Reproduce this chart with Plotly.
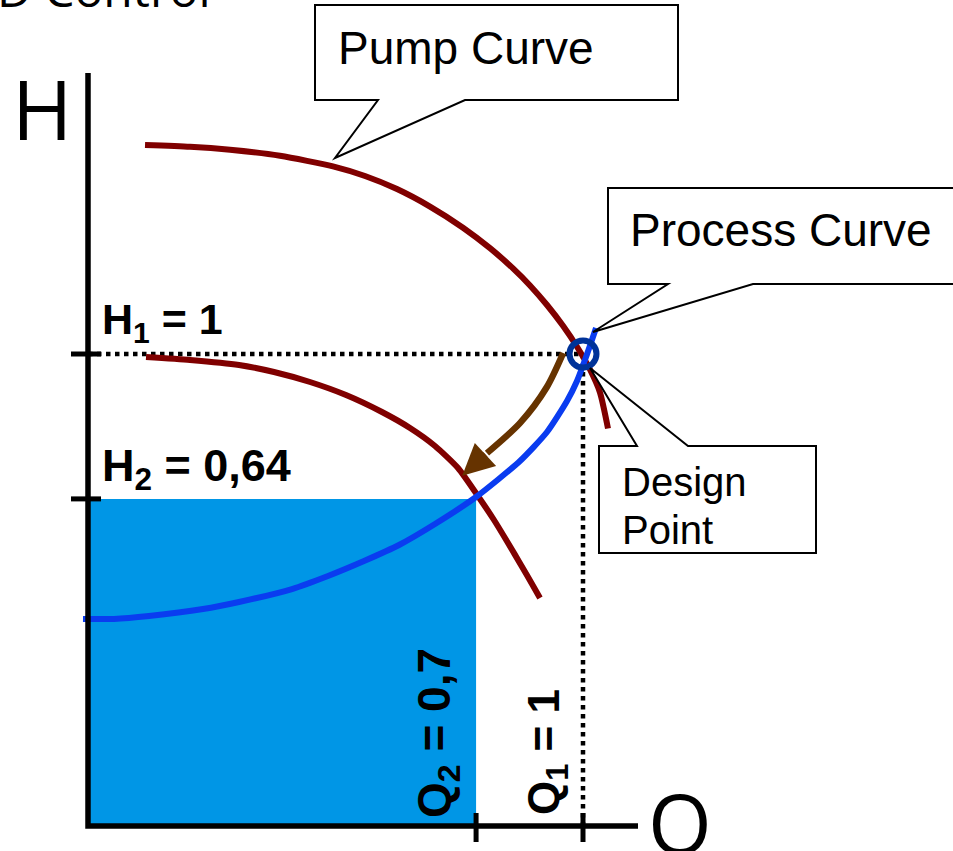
import plotly.graph_objects as go

# ---------------- data (diagram units: design point = (1, 1)) ----------------
# Pump curve at full speed
pump1_q = [0.1152, 0.2061, 0.2869, 0.3879, 0.4949, 0.5596, 0.6242, 0.6909, 0.7576,
           0.8121, 0.8586, 0.8929, 0.9273, 0.9596, 0.9879, 1.0141, 1.0343, 1.0505]
pump1_h = [1.4428, 1.4390, 1.4326, 1.4199, 1.3975, 1.3771, 1.3494, 1.3123, 1.2676,
           1.2242, 1.1814, 1.1453, 1.1038, 1.0597, 1.0153, 0.9672, 0.9184, 0.8422]
# Pump curve at reduced speed
pump2_q = [0.1172, 0.2061, 0.3051, 0.3758, 0.4485, 0.5212, 0.5939, 0.6505, 0.7010,
           0.7475, 0.7919, 0.8202, 0.8485, 0.8747, 0.8970, 0.9131]
pump2_h = [0.9936, 0.9873, 0.9767, 0.9619, 0.9407, 0.9131, 0.8771, 0.8432, 0.8051,
           0.7585, 0.6928, 0.6483, 0.5996, 0.5530, 0.5127, 0.4831]
# Process (system) curve
proc_q = [-0.0101, 0.0525, 0.1232, 0.2323, 0.3051, 0.4121, 0.4848, 0.5576, 0.6283,
          0.7010, 0.7838, 0.8727, 0.9273, 0.9677, 0.9879, 1.0061, 1.0263]
proc_h = [0.4386, 0.4386, 0.4449, 0.4597, 0.4746, 0.5021, 0.5297, 0.5614, 0.5953,
          0.6398, 0.6970, 0.7733, 0.8347, 0.9004, 0.9428, 0.9936, 1.0551]
# Brown arrow path (from design point down to new operating point)
arrow_q = [0.960, 0.927, 0.873, 0.806, 0.756]
arrow_h = [1.002, 0.930, 0.854, 0.790, 0.742]

# Operating points (positions on the diagram) and their labels
design_q, design_h = 1.0, 1.0
op2_q, op2_h = 0.784, 0.693
h_labels = ["H<sub>1</sub> = 1", "H<sub>2</sub> = 0,64"]
q_labels = ["Q<sub>1</sub> = 1", "Q<sub>2</sub> = 0,7"]

# ---------------- pixel layout helpers ----------------
W, Hh = 953, 851
X0, X1 = 88, 583      # pixel x of Q=0 and Q=1
Y0, Y1 = 826, 354     # pixel y of H=0 and H=1
sx = (X1 - X0)
sy = (Y0 - Y1)


def px(x):
    return (x - X0) / sx


def py(y):
    return (Y0 - y) / sy


xr = [px(0), px(W)]
yr = [py(Hh), py(0)]

RED = "#800000"
BLUE = "#0A3CF0"
FILL = "#0096E6"
BROWN = "#663300"
CIRC = "#003399"

fig = go.Figure()

# shaded power rectangle
fig.add_trace(go.Scatter(x=[0, op2_q, op2_q, 0, 0], y=[0, 0, op2_h, op2_h, 0],
                         fill="toself", fillcolor=FILL, mode="none", hoverinfo="skip"))

# dotted guide lines
fig.add_trace(go.Scatter(x=[0, design_q], y=[design_h, design_h], mode="lines",
                         line=dict(color="black", width=4.5, dash="dot"), hoverinfo="skip"))
fig.add_trace(go.Scatter(x=[design_q, design_q], y=[design_h, 0], mode="lines",
                         line=dict(color="black", width=4.5, dash="dot"), hoverinfo="skip"))

# curves
fig.add_trace(go.Scatter(x=pump1_q, y=pump1_h, mode="lines",
                         line=dict(color=RED, width=6, shape="spline", smoothing=0.6)))
fig.add_trace(go.Scatter(x=pump2_q, y=pump2_h, mode="lines",
                         line=dict(color=RED, width=6, shape="spline", smoothing=0.6)))
fig.add_trace(go.Scatter(x=proc_q, y=proc_h, mode="lines",
                         line=dict(color=BLUE, width=6, shape="spline", smoothing=0.6)))
fig.add_trace(go.Scatter(x=arrow_q[:-1], y=arrow_h[:-1], mode="lines",
                         line=dict(color=BROWN, width=6.5, shape="spline", smoothing=0.8)))

# axes
ax_top = py(73)
ax_right = px(638)
fig.add_trace(go.Scatter(x=[0, 0, ax_right], y=[ax_top, 0, 0], mode="lines",
                         line=dict(color="black", width=5.5)))
# ticks
tk_l, tk_r = px(71), px(101)
fig.add_trace(go.Scatter(x=[tk_l, tk_r], y=[design_h, design_h], mode="lines", line=dict(color="black", width=5)))
fig.add_trace(go.Scatter(x=[tk_l, tk_r], y=[op2_h, op2_h], mode="lines", line=dict(color="black", width=5)))
tk_t, tk_b = py(813), py(842)
fig.add_trace(go.Scatter(x=[design_q, design_q], y=[tk_t, tk_b], mode="lines", line=dict(color="black", width=5)))
fig.add_trace(go.Scatter(x=[op2_q, op2_q], y=[tk_t, tk_b], mode="lines", line=dict(color="black", width=5)))

# design point circle
fig.add_trace(go.Scatter(x=[design_q], y=[design_h], mode="markers",
                         marker=dict(symbol="circle-open", size=27, color=CIRC,
                                     line=dict(width=6, color=CIRC))))

# arrow head
fig.add_annotation(x=arrow_q[-1], y=arrow_h[-1], ax=arrow_q[-2], ay=arrow_h[-2],
                   xref="x", yref="y", axref="x", ayref="y", text="",
                   showarrow=True, arrowhead=2, arrowsize=1.05, arrowwidth=6, arrowcolor=BROWN)


# callouts
def path(pts):
    s = "M " + " L ".join(f"{px(a)},{py(b)}" for a, b in pts) + " Z"
    return s


callouts = [
    [(315, 5), (678, 5), (678, 100), (465, 100), (335, 158), (378, 100), (315, 100)],
    [(608, 188), (960, 188), (960, 284), (753, 284), (593, 332), (668, 284), (608, 284)],
    [(599, 446), (637, 446), (590, 368), (688, 446), (816, 446), (816, 553), (599, 553)],
]
for c in callouts:
    fig.add_shape(type="path", path=path(c), xref="x", yref="y",
                  line=dict(color="black", width=2), fillcolor="white", layer="above")

SANS = "Liberation Sans, Arial, sans-serif"
CAL = "Open Sans, sans-serif"


def txt(x, y, s, size, family, xa="left", ya="middle", angle=0, bold=False):
    fig.add_annotation(x=x / W, y=1 - y / Hh, xref="paper", yref="paper",
                       text=(f"<b>{s}</b>" if bold else s),
                       showarrow=False, xanchor=xa, yanchor=ya, textangle=angle,
                       font=dict(family=family, size=size, color="black"))


txt(336, 48, "Pump Curve", 46, SANS)
txt(628, 230, "Process Curve", 46, SANS)
txt(620, 482, "Design", 40, SANS)
txt(620, 530, "Point", 40, SANS)

txt(100, 322, h_labels[0], 43, SANS, bold=True)
txt(100, 469, h_labels[1], 45, SANS, bold=True)
txt(437, 733, q_labels[1], 46, SANS, xa="center", angle=-90, bold=True)
txt(547, 752, q_labels[0], 44, SANS, xa="center", angle=-90, bold=True)

txt(42, 108, "H", 82, CAL, xa="center")
txt(680, 822, "Q", 82, CAL, xa="center")
txt(213, -11, "VSD Control", 48, CAL, xa="right")

fig.update_layout(
    width=W, height=Hh, margin=dict(l=0, r=0, t=0, b=0),
    paper_bgcolor="white", plot_bgcolor="white", showlegend=False,
    xaxis=dict(range=xr, visible=False, fixedrange=True),
    yaxis=dict(range=yr, visible=False, fixedrange=True),
)

fig.write_html("out.html", config={"displayModeBar": False},
               post_script="document.body.style.margin='0';")
